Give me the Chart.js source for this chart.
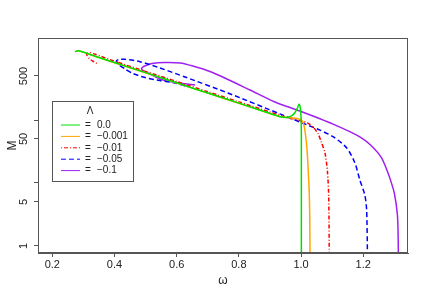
<!DOCTYPE html>
<html>
<head>
<meta charset="utf-8">
<script src="https://cdn.jsdelivr.net/npm/chart.js@4.4.0/dist/chart.umd.min.js"></script>
<style>
html, body { margin: 0; padding: 0; background: #fff; }
#wrap { width: 432px; height: 300px; }
</style>
</head>
<body>
<div id="wrap"><canvas id="chartMasa" width="432" height="300"></canvas></div>
<script>
// Valores de Lambda (leyenda)
const lambdaLabels = ['0.0', '\u22120.001', '\u22120.01', '\u22120.05', '\u22120.1'];

// Lambda = 0.0
const omega0 = [0.273, 0.284, 0.35, 0.45, 0.55, 0.65, 0.75, 0.85, 0.93, 0.955, 0.968, 0.98, 0.989, 0.994, 0.998, 1.0, 1.001, 1.001];
const masa0 = [1210, 1259, 985, 679, 469, 323, 223, 154, 114, 110, 115, 130, 158, 178, 150, 110, 60, 0.5];

// Lambda = -0.001
const omega1 = [0.276, 0.286, 0.35, 0.45, 0.55, 0.65, 0.75, 0.85, 0.93, 0.97, 0.99, 1.002, 1.010, 1.016, 1.020, 1.023, 1.026, 1.028, 1.029];
const masa1 = [1235, 1250, 980, 675, 466, 321, 222, 153, 114, 108, 105, 99, 80, 50, 30, 16, 8, 3, 0.5];

// Lambda = -0.01
const omega2 = [0.343, 0.33, 0.318, 0.311, 0.313, 0.322, 0.335, 0.40, 0.50, 0.60, 0.70, 0.80, 0.90, 0.95, 0.996, 1.02, 1.04, 1.055, 1.065, 1.077, 1.085, 1.089, 1.091];
const masa2 = [790, 860, 960, 1080, 1150, 1175, 1120, 857, 591, 408, 281, 194, 134, 111, 98, 90, 76, 60, 45, 30, 15, 6, 0.5];

// Lambda = -0.05
const omega3 = [0.627, 0.595, 0.546, 0.498, 0.459, 0.434, 0.412, 0.407, 0.415, 0.434, 0.482, 0.546, 0.627, 0.765, 0.932, 0.996, 1.061, 1.104, 1.147, 1.173, 1.189, 1.205, 1.211, 1.214];
const masa3 = [347, 387, 423, 473, 547, 645, 774, 880, 915, 919, 842, 669, 482, 268, 125, 93, 69, 54, 36, 21, 11.2, 6.5, 3.7, 0.5];

// Lambda = -0.1
const omega4 = [0.659, 0.620, 0.578, 0.546, 0.514, 0.493, 0.487, 0.492, 0.501, 0.521, 0.562, 0.611, 0.652, 0.707, 0.755, 0.836, 0.916, 0.996, 1.103, 1.189, 1.231, 1.259, 1.276, 1.2875, 1.300, 1.310, 1.3125, 1.313];
const masa4 = [359, 380, 408, 448, 537, 600, 660, 700, 733, 789, 818, 803, 719, 589, 464, 299, 193, 139, 86, 54, 37, 25, 16.1, 11.2, 6.9, 3.1, 1.24, 0.5];

// Ejes
const xTicks = [0.2, 0.4, 0.6, 0.8, 1.0, 1.2];
const yTicks = [1, 5, 10, 50, 100, 500];
const yTickLabels = ['1', '5', '', '50', '', '500'];

function puntos(omega, masa) {
	return omega.map((w, i) => ({ x: w, y: masa[i] }));
}

function serie(label, omega, masa, color, dash) {
	return {
		label: label,
		data: puntos(omega, masa),
		borderColor: color,
		backgroundColor: color,
		borderWidth: 1.5,
		borderDash: dash,
		showLine: true,
		pointRadius: 0,
		tension: 0.25
	};
}

// Caja del grafico y leyenda al estilo R
const cajaPlugin = {
	id: 'caja',
	afterDraw(chart) {
		const ctx = chart.ctx;
		const a = chart.chartArea;
		ctx.save();
		ctx.strokeStyle = '#555';
		ctx.lineWidth = 1;
		ctx.strokeRect(a.left + 0.5, a.top + 0.5, a.right - a.left - 1, a.bottom - a.top - 1);

		// leyenda
		ctx.strokeRect(52.5, 101.5, 81, 80);
		ctx.fillStyle = '#222';
		ctx.font = '10px "Liberation Sans", Arial, sans-serif';
		ctx.textAlign = 'center';
		ctx.textBaseline = 'middle';
		ctx.fillText('\u039B', 90, 111);
		chart.data.datasets.forEach((ds, i) => {
			const y = 125 + i * 11.4;
			ctx.strokeStyle = ds.borderColor;
			ctx.lineWidth = 1;
			ctx.setLineDash(ds.borderDash || []);
			ctx.beginPath();
			ctx.moveTo(61, y);
			ctx.lineTo(80, y);
			ctx.stroke();
			ctx.setLineDash([]);
			ctx.fillStyle = '#222';
			ctx.textAlign = 'center';
			ctx.fillText('=', 88, y);
			ctx.textAlign = 'left';
			ctx.fillText(ds.label, 97, y);
		});
		ctx.restore();
	}
};

new Chart(document.getElementById('chartMasa').getContext('2d'), {
	type: 'scatter',
	data: {
		datasets: [
			serie(lambdaLabels[0], omega0, masa0, '#00e000', []),
			serie(lambdaLabels[1], omega1, masa1, '#ffa500', []),
			serie(lambdaLabels[2], omega2, masa2, '#ff0000', [1, 2, 4, 2]),
			serie(lambdaLabels[3], omega3, masa3, '#0000ff', [5, 3]),
			serie(lambdaLabels[4], omega4, masa4, '#a020f0', [])
		]
	},
	options: {
		responsive: false,
		animation: false,
		devicePixelRatio: 1,
		layout: { padding: { top: 38, right: 24, left: 0, bottom: 0 } },
		plugins: {
			legend: { display: false },
			tooltip: { enabled: false }
		},
		scales: {
			x: {
				type: 'linear',
				min: 0.154,
				max: 1.344,
				afterFit: function (scale) { scale.height = 47; },
				afterBuildTicks: function (scale) {
					scale.ticks = xTicks.map(v => ({ value: v }));
				},
				grid: { drawOnChartArea: false, drawTicks: true, tickLength: 4, color: '#555' },
				border: { display: true, color: '#555' },
				ticks: {
					padding: 1,
					color: '#222',
					font: { family: '"Liberation Sans", Arial, sans-serif', size: 11 },
					callback: function (value) { return value.toFixed(1); }
				},
				title: {
					display: true,
					text: '\u03C9',
					color: '#222',
					font: { family: '"Liberation Sans", Arial, sans-serif', size: 12 },
					padding: { top: 0, bottom: 12 }
				}
			},
			y: {
				type: 'logarithmic',
				min: 0.774,
				max: 2003,
				bounds: 'data',
				afterFit: function (scale) { scale.width = 38; },
				afterBuildTicks: function (scale) {
					scale.ticks = yTicks.map(v => ({ value: v }));
				},
				grid: { drawOnChartArea: false, drawTicks: true, tickLength: 4, color: '#555' },
				border: { display: true, color: '#555' },
				ticks: {
					minRotation: 90,
					maxRotation: 90,
					crossAlign: 'center',
					padding: 1,
					color: '#222',
					font: { family: '"Liberation Sans", Arial, sans-serif', size: 11 },
					callback: function (value) {
						const i = yTicks.indexOf(value);
						return i >= 0 ? yTickLabels[i] : '';
					}
				},
				title: {
					display: true,
					text: 'M',
					color: '#222',
					font: { family: '"Liberation Sans", Arial, sans-serif', size: 12 },
					padding: { top: 5, bottom: 0 }
				}
			}
		}
	},
	plugins: [cajaPlugin]
});
</script>
</body>
</html>
